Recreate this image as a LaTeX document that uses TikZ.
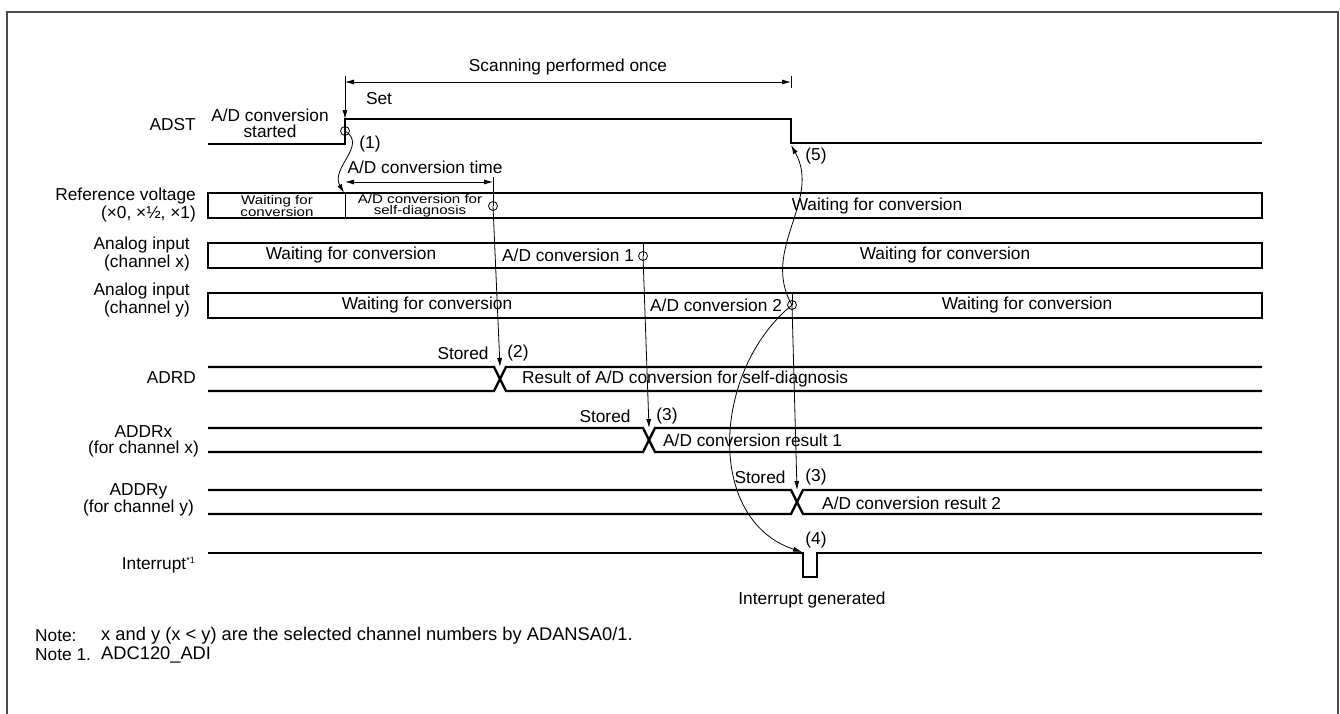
\documentclass[tikz,border=0pt]{standalone}
\usepackage{fontspec}
\setmainfont{Liberation Sans}
\newfontfamily\widefont[FakeStretch=1.2]{Liberation Sans}
\usetikzlibrary{arrows.meta}
\begin{document}
\begin{tikzpicture}[
    x=1pt,
    y=-1pt,
    sig/.style={line width=2.4pt},
    fine/.style={line width=0.8pt},
    arr/.style={line width=0.8pt, -{Latex[length=9pt, width=5pt]}},
    span/.style={line width=0.8pt, {Latex[length=9pt, width=5pt]}-{Latex[length=9pt, width=5pt]}},
    txt/.style={font=\fontsize{17.3}{16}\selectfont, inner sep=0pt},
    notetxt/.style={font=\fontsize{18.3}{18}\selectfont, inner sep=0pt, anchor=west},
    cramped/.style={font=\widefont\fontsize{12.6}{11.2}\selectfont, inner sep=0pt, align=center},
    sname/.style={txt, anchor=east, align=right},
    ring/.style={circle, draw, line width=0.8pt, minimum size=9pt, inner sep=0pt}
]
\useasboundingbox (0,0) rectangle (1340,713);
\draw[line width=2pt, black!70] (7,12) rectangle (1338,740);

% signal names
\node[sname] (nADST) at (196,125) {ADST};
\node[sname] (nRef) at (196,205) {Reference voltage\\(×0, ×½, ×1)};
\node[sname] (nChx) at (190,254) {Analog input\\(channel x)};
\node[sname] (nChy) at (190,300) {Analog input\\(channel y)};
\node[sname] (nADRD) at (196,378) {ADRD};
\node[txt, anchor=east, align=center] (nADDRx) at (199,441) {ADDRx\\(for channel x)};
\node[txt, anchor=east, align=center] (nADDRy) at (194,500) {ADDRy\\(for channel y)};
\node[sname] (nIrq) at (195,565) {Interrupt\raisebox{6pt}{\fontsize{9}{9}\selectfont *1}};

% ADST and interrupt
\draw[sig] (208,144) -- (345,144) -- (345,119) -- (791,119) -- (791,143) -- (1262,143);
\draw[sig] (208,553) -- (803,553) -- (803,577) -- (817,577) -- (817,553) -- (1262,553);

% state rows
\foreach \yt in {193,243,293}{
  \draw[sig] (208,\yt) rectangle (1262,\yt+25);
}
\draw[fine] (345,193) -- (345,218);

% data buses with crossing
\foreach \yt/\xc/\nm in {367/500/xADRD, 428/649/xADDRx, 490/797/xADDRy}{
  \draw[sig] (208,\yt) -- (\xc-6,\yt) -- (\xc+6,\yt+24) -- (1262,\yt+24);
  \draw[sig] (208,\yt+24) -- (\xc-6,\yt+24) -- (\xc+6,\yt) -- (1262,\yt);
  \coordinate (\nm) at (\xc,\yt);
}
\coordinate (xIrq) at (802,552);
\coordinate (xFall) at (791,145);
\coordinate (xRef) at (344,193);

% end-of-conversion marks
\node[ring] (c1) at (345,131) {};
\node[ring] (c2) at (493,206) {};
\node[ring] (c3) at (643,256) {};
\node[ring] (c4) at (792,305) {};
\coordinate (t2) at (493,177);
\coordinate (t3) at (643,243);
\coordinate (t4) at (792,293);

% scanning span and set
\draw[fine] (345,76) -- (345,88);
\draw[fine] (791,76) -- (791,88);
\draw[span] (345,82) -- (791,82)
  node[midway, above=7pt, txt] (lScan) {Scanning performed once};
\draw[arr] (345,88) -- (345,119);
\node[txt] (lSet) at (379,99) {Set};
\node[txt, align=center] (lStart) at (270,123) {A/D conversion\\started};

% conversion time
\draw[span] (345,182) -- (493,182);
\node[txt] (lTime) at (425,167) {A/D conversion time};

% arrows between marks
\draw[arr] (c1.center) .. controls (368,145) and (330,168) .. (xRef);
\node[txt] (l1) at (370,144) {(1)};
\draw[fine] (t2) -- (c2.center);
\draw[arr] (c2.center) -- (xADRD);
\draw[fine] (t3) -- (c3.center);
\draw[arr] (c3.center) -- (xADDRx);
\draw[fine] (t4) -- (c4.center);
\draw[arr] (c4.center) -- (xADDRy);
\draw[arr] (c4.center) .. controls (760,250) and (822,200) .. (xFall);
\draw[arr] (c4.center) .. controls (712,370) and (705,520) .. (xIrq);
\node[txt] (l5) at (816,156) {(5)};
\node[txt] (l2) at (518,353) {(2)};
\node[txt] (l3a) at (667,416) {(3)};
\node[txt] (l3b) at (816,477) {(3)};
\node[txt] (l4) at (816,540) {(4)};

% row texts
\node[cramped] (rWait) at (277,206) {Waiting for\\conversion};
\node[cramped] (rSelf) at (420,206) {A/D conversion for\\self-diagnosis};
\node[txt] (rWait2) at (877,206) {Waiting for conversion};
\node[txt] (xWait) at (351,255) {Waiting for conversion};
\node[txt, anchor=west] (xConv) at (502,255) {A/D conversion 1};
\node[txt] (xWait2) at (945,255) {Waiting for conversion};
\node[txt] (yWait) at (427,305) {Waiting for conversion};
\node[txt, anchor=west] (yConv) at (650,305) {A/D conversion 2};
\node[txt] (yWait2) at (1027,305) {Waiting for conversion};

% bus texts
\node[txt] (sADRD) at (463,353) {Stored};
\node[txt, anchor=west] (vADRD) at (522,379) {Result of A/D conversion for self-diagnosis};
\node[txt] (sADDRx) at (605,416) {Stored};
\node[txt, anchor=west] (vADDRx) at (663,440) {A/D conversion result 1};
\node[txt] (sADDRy) at (760,477) {Stored};
\node[txt, anchor=west] (vADDRy) at (822,503) {A/D conversion result 2};
\node[txt] (lIrq) at (812,600) {Interrupt generated};

% notes
\node[txt, anchor=west] (note) at (35,636) {Note:};
\node[notetxt] (noteT) at (101,636) {x and y (x < y) are the selected channel numbers by ADANSA0/1.};
\node[txt, anchor=west] (note1) at (35,655) {Note 1.};
\node[notetxt] (note1T) at (101,655) {ADC120\_ADI};
\end{tikzpicture}
\end{document}
